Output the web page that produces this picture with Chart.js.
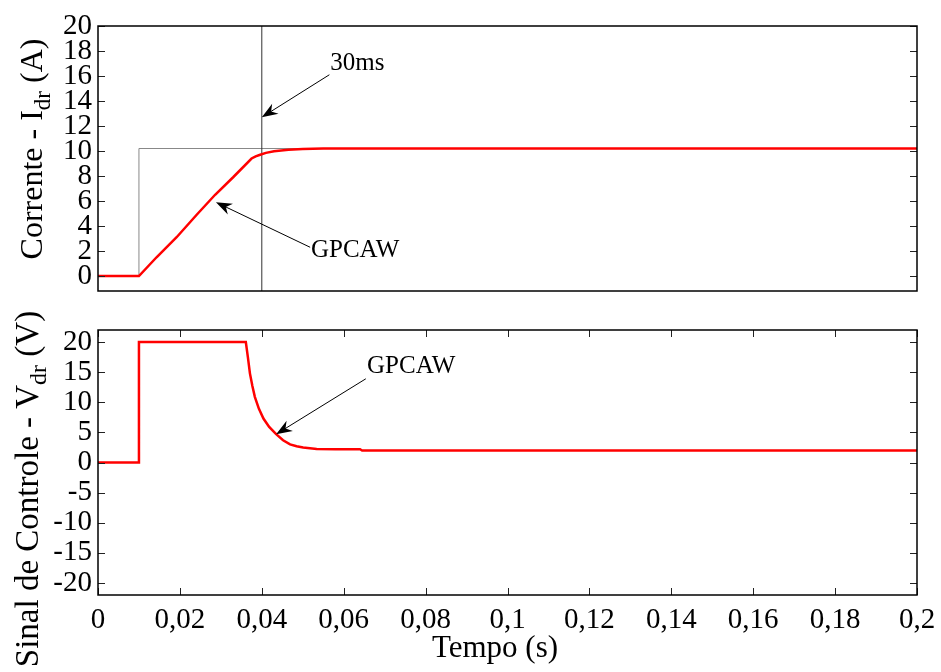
<!DOCTYPE html>
<html>
<head>
<meta charset="utf-8">
<script src="https://cdn.jsdelivr.net/npm/chart.js@4.4.0/dist/chart.umd.min.js"></script>
<style>
  body { margin: 0; background: #fff; }
  #wrap { position: relative; width: 941px; height: 672px; }
  canvas { position: absolute; left: 0; }
</style>
</head>
<body>
<div id="wrap">
  <canvas id="topChart" width="941" height="300" style="top:0"></canvas>
  <canvas id="botChart" width="941" height="362" style="top:310px"></canvas>
</div>
<script>
// eixos
var xTicks = [0, 0.02, 0.04, 0.06, 0.08, 0.1, 0.12, 0.14, 0.16, 0.18, 0.2];
var yTicksTop = [0, 2, 4, 6, 8, 10, 12, 14, 16, 18, 20];
var yTicksBot = [-20, -15, -10, -5, 0, 5, 10, 15, 20];

// referencia de corrente
var tRef = [0, 0.01, 0.01, 0.2];
var iRef = [0, 0, 10.2, 10.2];

// corrente Idr (GPCAW)
var tIdr = [0, 0.01, 0.0143, 0.0192, 0.0241, 0.0286, 0.033, 0.0375, 0.0385, 0.0396, 0.041, 0.043, 0.0465, 0.05, 0.055, 0.2];
var iIdr = [0, 0, 1.5, 3.1, 4.9, 6.5, 7.9, 9.4, 9.57, 9.7, 9.85, 9.98, 10.1, 10.16, 10.2, 10.2];

// sinal de controle Vdr (GPCAW)
var tVdr = [0, 0.01, 0.01, 0.0361, 0.0363, 0.0366, 0.0371, 0.0377, 0.0383, 0.0393, 0.0404, 0.0418, 0.0435, 0.0452, 0.0469, 0.0485, 0.0501, 0.0534, 0.058, 0.064, 0.0645, 0.2];
var vVdr = [0, 0, 20, 20, 19, 17.5, 14.8, 12.7, 10.9, 8.9, 7.3, 5.9, 4.7, 3.7, 3.0, 2.7, 2.5, 2.25, 2.2, 2.2, 2.0, 2.0];

// marca de 30 ms
var tMark = [0.04, 0.04];
var iMark = [-1.2, 20];

var notesTop = [
  { text: '30ms', x: 0.0567, y: 16.5, fromX: 0.0565, fromY: 16.1, toX: 0.04, toY: 12.7 },
  { text: 'GPCAW', x: 0.052, y: 1.5, fromX: 0.0518, fromY: 2.3, toX: 0.0288, toY: 5.9 }
];
var notesBot = [
  { text: 'GPCAW', x: 0.0657, y: 14.8, fromX: 0.0654, fromY: 13.9, toX: 0.0435, toY: 4.7 }
];

var SERIF = '"Liberation Serif", "Times New Roman", serif';

function pts(xs, ys) {
  return xs.map(function (x, i) { return { x: x, y: ys[i] }; });
}

function fmtX(v) {
  return (Math.round(v * 100) / 100).toString().replace('.', ',');
}

function arrow(ctx, x1, y1, x2, y2) {
  var a = Math.atan2(y2 - y1, x2 - x1);
  var dx = Math.cos(a), dy = Math.sin(a);
  var L = 16, W = 6, N = 11;
  ctx.beginPath();
  ctx.moveTo(x1, y1);
  ctx.lineTo(x2 - dx * 4, y2 - dy * 4);
  ctx.stroke();
  ctx.beginPath();
  ctx.moveTo(x2, y2);
  ctx.lineTo(x2 - dx * L - dy * W, y2 - dy * L + dx * W);
  ctx.lineTo(x2 - dx * N, y2 - dy * N);
  ctx.lineTo(x2 - dx * L + dy * W, y2 - dy * L - dx * W);
  ctx.closePath();
  ctx.fill();
}

var decor = {
  id: 'decor',
  afterDatasetsDraw: function (chart, args, o) {
    var ctx = chart.ctx, a = chart.chartArea;
    var xs = chart.scales.x, ys = chart.scales.y;
    ctx.save();
    // ticks para dentro
    ctx.strokeStyle = '#222';
    ctx.lineWidth = 1;
    ys.ticks.forEach(function (t) {
      var p = Math.round(ys.getPixelForValue(t.value)) + 0.5;
      ctx.beginPath();
      ctx.moveTo(a.left, p); ctx.lineTo(a.left + 7, p);
      ctx.moveTo(a.right, p); ctx.lineTo(a.right - 7, p);
      ctx.stroke();
    });
    if (o.xTicks) {
      xs.ticks.forEach(function (t) {
        var p = Math.round(xs.getPixelForValue(t.value)) + 0.5;
        ctx.beginPath();
        ctx.moveTo(p, a.top); ctx.lineTo(p, a.top + 7);
        ctx.moveTo(p, a.bottom); ctx.lineTo(p, a.bottom - 7);
        ctx.stroke();
      });
    }
    // moldura
    ctx.strokeStyle = '#000';
    ctx.lineWidth = 1.5;
    ctx.strokeRect(a.left, a.top, a.right - a.left, a.bottom - a.top);
    // anotacoes
    ctx.fillStyle = '#000';
    ctx.strokeStyle = '#000';
    ctx.lineWidth = 1;
    ctx.font = '25px ' + SERIF;
    ctx.textAlign = 'left';
    ctx.textBaseline = 'alphabetic';
    (o.notes || []).forEach(function (n) {
      ctx.fillText(n.text, xs.getPixelForValue(n.x), ys.getPixelForValue(n.y));
      arrow(ctx, xs.getPixelForValue(n.fromX), ys.getPixelForValue(n.fromY),
        xs.getPixelForValue(n.toX), ys.getPixelForValue(n.toY));
    });
    // titulo do eixo y com subscrito
    var t = o.ytitle;
    ctx.translate(t.x, t.y);
    ctx.rotate(-Math.PI / 2);
    var big = t.size + 'px ' + SERIF, small = Math.round(t.size * 0.73) + 'px ' + SERIF;
    ctx.font = big; var w1 = ctx.measureText(t.main).width; var w3 = ctx.measureText(t.rest).width;
    ctx.font = small; var w2 = ctx.measureText(t.sub).width;
    var x0 = -(w1 + w2 + w3) / 2;
    ctx.font = big; ctx.fillText(t.main, x0, 0);
    ctx.font = small; ctx.fillText(t.sub, x0 + w1, 8);
    ctx.font = big; ctx.fillText(t.rest, x0 + w1 + w2, 0);
    ctx.restore();
    if (o.xtitle) {
      ctx.save();
      ctx.fillStyle = '#000';
      ctx.font = '31px ' + SERIF;
      ctx.textAlign = 'center';
      ctx.fillText(o.xtitle.text, o.xtitle.x, o.xtitle.y);
      ctx.restore();
    }
  }
};

function makeChart(id, datasets, yMin, yMax, yTicks, showX, padTop, xHeight, decorOpts) {
  return new Chart(document.getElementById(id), {
    type: 'scatter',
    data: { datasets: datasets },
    options: {
      responsive: false,
      animation: false,
      devicePixelRatio: 1,
      layout: { padding: { left: 0, right: 24, top: padTop, bottom: 0 } },
      plugins: { legend: { display: false }, tooltip: { enabled: false }, decor: decorOpts },
      scales: {
        x: {
          type: 'linear', min: 0, max: 0.2,
          afterBuildTicks: function (s) { s.ticks = xTicks.map(function (v) { return { value: v }; }); },
          afterFit: function (s) { s.height = xHeight; s.paddingLeft = 0; s.paddingRight = 0; },
          grid: { display: false, drawTicks: false },
          border: { display: false },
          ticks: {
            display: showX, padding: 8, color: '#000',
            font: { family: SERIF, size: 29 },
            maxRotation: 0, autoSkip: false,
            callback: function (v) { return fmtX(v); }
          }
        },
        y: {
          type: 'linear', min: yMin, max: yMax,
          afterBuildTicks: function (s) { s.ticks = yTicks.map(function (v) { return { value: v }; }); },
          afterFit: function (s) { s.width = 98; s.paddingTop = 0; s.paddingBottom = 0; },
          grid: { display: false, drawTicks: false },
          border: { display: false },
          ticks: {
            padding: 6, color: '#000',
            font: { family: SERIF, size: 29 },
            autoSkip: false,
            callback: function (v) { return String(v); }
          }
        }
      }
    },
    plugins: [decor]
  });
}

function line(data, color, width) {
  return { data: data, showLine: true, borderColor: color, borderWidth: width, pointRadius: 0, tension: 0, fill: false };
}

// o primeiro dataset fica por cima
makeChart('topChart', [
  line(pts(tIdr, iIdr), '#ff0000', 2.5),
  line(pts(tMark, iMark), '#333', 1),
  line(pts(tRef, iRef), '#888', 1)
], -1.2, 20, yTicksTop, false, 26, 9, {
  xTicks: false,
  notes: notesTop,
  ytitle: { main: 'Corrente - I', sub: 'dr', rest: ' (A)', x: 42, y: 149, size: 32 }
});

makeChart('botChart', [
  line(pts(tVdr, vVdr), '#ff0000', 2.5)
], -22, 22, yTicksBot, true, 20, 77, {
  xTicks: true,
  notes: notesBot,
  ytitle: { main: 'Sinal de Controle - V', sub: 'dr', rest: ' (V)', x: 38, y: 179, size: 33 },
  xtitle: { text: 'Tempo (s)', x: 495, y: 347 }
});
</script>
</body>
</html>
